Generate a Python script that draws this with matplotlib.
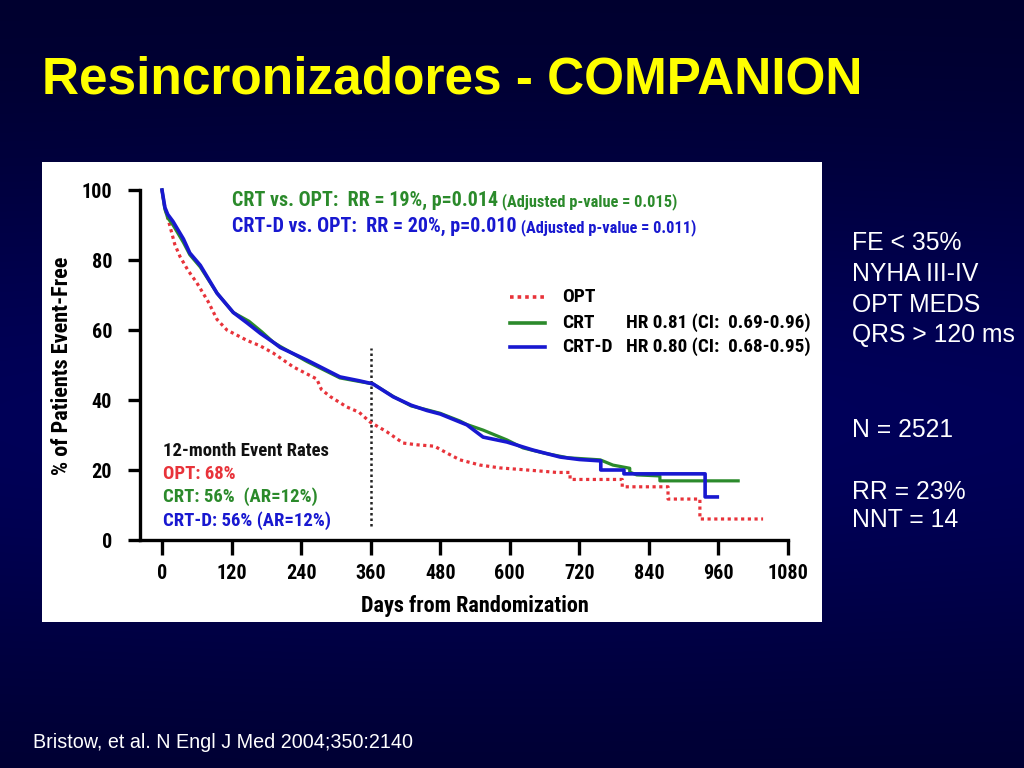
import numpy as np
import matplotlib
matplotlib.use("Agg")
import matplotlib.pyplot as plt
from matplotlib.lines import Line2D
from matplotlib.patches import Rectangle

# ---------------- data ----------------
opt_days = [0, 5, 14, 22, 31, 45, 60, 80, 95, 112, 147, 169, 192, 226, 267, 275, 290, 319, 340,
            359, 388, 416, 440, 470, 492, 514, 549, 583, 630, 660, 681, 704, 704, 794, 794,
            873, 873, 928, 928, 1037]
opt_pct = [100, 95, 89.5, 84.5, 81, 77, 73.5, 68, 63, 60, 57, 55.5, 53.4, 49.5, 46, 43, 41, 38, 36.5,
           33.7, 30.9, 27.7, 27.2, 26.8, 24.8, 22.9, 21.4, 20.6, 20, 19.6, 19.3, 19.3, 17.3, 17.3, 15.2,
           15.2, 11.7, 11.7, 6, 6]

crtd_days = [0, 5, 10, 19, 37, 48, 66, 95, 123, 147, 170, 192, 204, 250, 307, 340, 364, 399, 430,
             457, 480, 514, 526, 554, 595, 640, 687, 720, 757, 757, 797, 797, 937, 937, 958]
crtd_pct = [100, 95, 93, 91, 86, 82, 78.5, 70.5, 65, 62, 59, 56.5, 55, 51.4, 46.6, 45.5, 44.6, 40.9, 38.5,
            37, 36, 33.7, 32.9, 29.4, 28, 25.7, 23.7, 23, 22.6, 20, 20, 18.9, 18.9, 12.3, 12.3]

crt_days = [0, 5, 10, 19, 37, 48, 66, 95, 123, 150, 172, 192, 204, 250, 307, 340, 364, 399, 430,
            457, 480, 514, 526, 554, 595, 623, 660, 700, 756, 778, 807, 807, 819, 859, 859, 994]
crt_pct = [100, 94.5, 92, 90, 85, 81.5, 78, 70.5, 65, 62.5, 59.5, 56.5, 55.3, 51, 46.3, 45.3, 44.6, 41, 38.3,
           37.2, 36.2, 34, 33, 31.4, 28.6, 26.3, 24.8, 23.5, 22.9, 21.4, 20.5, 19.4, 18.6, 18.3, 16.9, 16.9]

x_ticks = [0, 120, 240, 360, 480, 600, 720, 840, 960, 1080]
y_ticks = [0, 20, 40, 60, 80, 100]
landmark_day = 360
landmark_range = (4, 55)

title = "Resincronizadores - COMPANION"
side_notes = ["FE < 35%", "NYHA III-IV", "OPT MEDS", "QRS > 120 ms"]
side_notes2 = ["N = 2521"]
side_notes3 = ["RR = 23%", "NNT = 14"]
citation = "Bristow, et al. N Engl J Med 2004;350:2140"

RED = "#e8333a"
GREEN = "#2b8a2b"
BLUE = "#1818d0"
NARROW = ["Roboto Condensed", "Liberation Sans", "DejaVu Sans"]
SANS = ["Liberation Sans", "DejaVu Sans"]

W, H = 1024, 768
fig = plt.figure(figsize=(W / 100, H / 100), dpi=100)


def fx(px):
    return px / W


def fy(py):
    return 1 - py / H


# ---------------- background ----------------
bg = fig.add_axes([0, 0, 1, 1], zorder=-10)
yy = np.linspace(0, 1, 300)[:, None]
xx = np.linspace(0, 1, 300)[None, :]
b = 0.17 + 0.19 * np.exp(-((yy - 0.55) / 0.35) ** 2) * (0.85 + 0.15 * np.exp(-((xx - 0.5) / 0.5) ** 2))
img = np.dstack([np.zeros_like(b), np.zeros_like(b), b])
bg.imshow(img, aspect="auto", extent=[0, 1, 0, 1], interpolation="bilinear")
bg.set_axis_off()

# white chart panel
fig.patches.append(Rectangle((fx(42), fy(622)), (822 - 42) / W, (622 - 162) / H,
                             transform=fig.transFigure, facecolor="white", edgecolor="none", zorder=-5))

# ---------------- main axes ----------------
px_per_day = (788 - 162) / 1080
ax = fig.add_axes([fx(140), fy(540), (788 - 140) / W, (540 - 190) / H])
ax.set_facecolor("none")
ax.set_xlim(-22 / px_per_day, 1080)
ax.set_ylim(0, 100)

ax.plot(opt_days, opt_pct, color=RED, lw=2.3, linestyle=(0, (1, 1.1)), clip_on=False, zorder=3)
ax.plot(crt_days, crt_pct, color=GREEN, lw=2.3, clip_on=False, zorder=4)
ax.plot(crtd_days, crtd_pct, color=BLUE, lw=2.6, clip_on=False, zorder=5)
ax.vlines(landmark_day, *landmark_range, colors="#222222", lw=1.8, linestyles=(0, (1, 1.2)), zorder=2)

for s in ["top", "right"]:
    ax.spines[s].set_visible(False)
for s in ["left", "bottom"]:
    ax.spines[s].set_linewidth(2.4)
    ax.spines[s].set_color("black")

ax.set_xticks(x_ticks)
ax.set_yticks(y_ticks)
ax.tick_params(axis="x", direction="out", length=10.5, width=2.4, pad=7)
ax.tick_params(axis="y", direction="out", length=9, width=2.4, pad=11)
for lab in ax.get_xticklabels() + ax.get_yticklabels():
    lab.set_fontfamily(NARROW)
    lab.set_fontweight("bold")
    lab.set_fontsize(14.5)

fig.text(fx(475), fy(606), "Days from Randomization", ha="center", va="center",
         fontsize=16, fontweight="bold", family=NARROW)
fig.text(fx(62), fy(366), "% of Patients Event-Free", ha="center", va="center", rotation=90,
         fontsize=16, fontweight="bold", family=NARROW)

# stats header
t1 = fig.text(fx(232), fy(200), "CRT vs. OPT:  RR = 19%, p=0.014", ha="left", va="center",
              fontsize=14.4, fontweight="bold", color=GREEN, family=NARROW)
ax.annotate(" (Adjusted p-value = 0.015)", xy=(1, 0), xycoords=t1, va="bottom", ha="left",
            fontsize=11.8, fontweight="bold", color=GREEN, family=NARROW)
t2 = fig.text(fx(232), fy(226), "CRT-D vs. OPT:  RR = 20%, p=0.010", ha="left", va="center",
              fontsize=14.4, fontweight="bold", color=BLUE, family=NARROW)
ax.annotate(" (Adjusted p-value = 0.011)", xy=(1, 0), xycoords=t2, va="bottom", ha="left",
            fontsize=11.8, fontweight="bold", color=BLUE, family=NARROW)

# legend
leg_rows = [("OPT", "", RED, (0, (1, 1.1)), 297),
            ("CRT", "HR 0.81 (CI:  0.69-0.96)", GREEN, "-", 323),
            ("CRT-D", "HR 0.80 (CI:  0.68-0.95)", BLUE, "-", 347)]
for name, hr, col, ls, ypx in leg_rows:
    fig.add_artist(Line2D([fx(510), fx(545)], [fy(ypx), fy(ypx)], transform=fig.transFigure,
                          color=col, lw=2.6, linestyle=ls))
    fig.text(fx(562), fy(ypx), name, ha="left", va="center", fontsize=14,
             fontweight="bold", color="black", family=NARROW)
    if hr:
        fig.text(fx(626), fy(ypx), hr, ha="left", va="center", fontsize=13.8,
                 fontweight="bold", color="black", family=NARROW)

# 12-month event rates
rates = [("12-month Event Rates", "#111111", 451), ("OPT: 68%", RED, 474),
         ("CRT: 56%  (AR=12%)", GREEN, 497), ("CRT-D: 56% (AR=12%)", BLUE, 521)]
for s, col, ypx in rates:
    fig.text(fx(163), fy(ypx), s, ha="left", va="center", fontsize=13.5,
             fontweight="bold", color=col, family=NARROW)

# ---------------- slide texts ----------------
fig.text(fx(42), fy(80), title, ha="left", va="center", fontsize=37, fontweight="bold",
         color="#ffff00", family=SANS)

side_y = [243, 274, 305, 335]
for s, ypx in zip(side_notes, side_y):
    fig.text(fx(852), fy(ypx), s, ha="left", va="center", fontsize=17.8,
             color="white", family=SANS)
for s in side_notes2:
    fig.text(fx(852), fy(430), s, ha="left", va="center", fontsize=17.8, color="white", family=SANS)
for s, ypx in zip(side_notes3, [492, 520]):
    fig.text(fx(852), fy(ypx), s, ha="left", va="center", fontsize=17.8,
             color="white", family=SANS)

fig.text(fx(33), fy(743), citation, ha="left", va="center", fontsize=14.2, color="white", family=SANS)

fig.savefig("out.png", dpi=100)
